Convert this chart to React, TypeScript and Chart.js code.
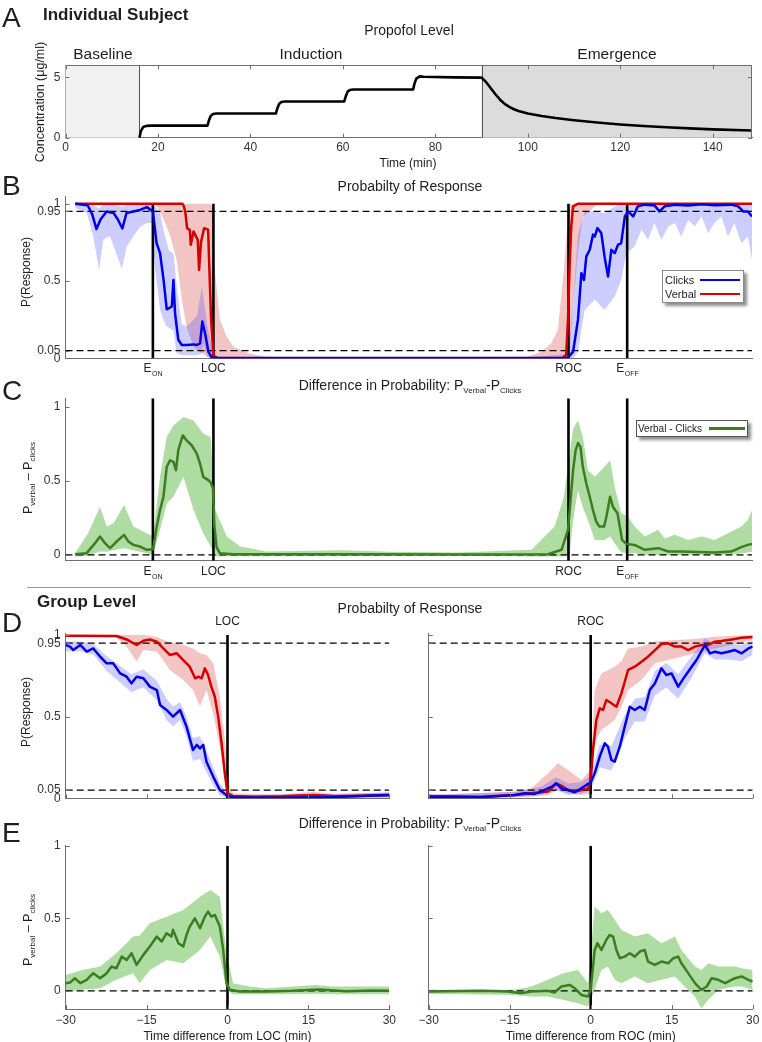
import React, { useEffect, useRef } from 'react';
import { Chart, registerables } from 'chart.js';

Chart.register(...registerables);

const W = 762;
const H = 1042;
const FONT = "'Liberation Sans', Arial, Helvetica, sans-serif";
const AXIS = '#6f6f6f';
const TICK_COLOR = '#333';
const BLUE = '#0000e6';
const RED = '#d40000';
const GREEN = '#3c7d22';
const BLUE_BAND = 'rgba(70,70,255,0.27)';
const RED_BAND = 'rgba(215,60,60,0.30)';
const GREEN_BAND = 'rgba(95,185,70,0.50)';

// ---------------- Panel A: propofol level ----------------
const A_TIME_TICKS = [0, 20, 40, 60, 80, 100, 120, 140];
const A_CONC_TICKS = [0, 5];
const PHASE_BASELINE = [0, 16];
const PHASE_EMERGENCE = [90, 148.5];
const A_CONC: number[][] = [
  [16, 0], [16.3, 0.55], [16.8, 0.88], [17.5, 0.98], [18.5, 1.0], [30.7, 1.0], [31.0, 1.4], [31.4, 1.8], [31.9, 1.96], [32.6, 2.0],
  [45.5, 2.0], [45.8, 2.4], [46.2, 2.8], [46.7, 2.96], [47.4, 3.0], [60.3, 3.0], [60.6, 3.4], [61.0, 3.8], [61.5, 3.96], [62.2, 4.0],
  [75.2, 4.0], [75.5, 4.5], [75.9, 4.9], [76.6, 5.08], [77.5, 5.05], [84, 5.0], [90, 4.98], [91, 4.6], [92, 4.1], [93, 3.6],
  [94, 3.15], [95, 2.8], [96, 2.55], [97, 2.36], [98, 2.22], [100, 2.0], [103, 1.8], [106, 1.63], [110, 1.45], [115, 1.26],
  [120, 1.1], [125, 0.97], [130, 0.86], [135, 0.77], [140, 0.69], [148.5, 0.6],
];

// ---------------- Panel B / C: individual subject ----------------
const SUBJ_EVENTS = [18.9, 32.0, 108.8, 121.5];
const SUBJ_EVENT_NAMES = [['E', 'ON'], ['LOC', ''], ['ROC', ''], ['E', 'OFF']];
const PROB_TICKS = [0, 0.05, 0.5, 0.95, 1];
const PROB_THRESHOLDS = [0.05, 0.95];
const DIFF_TICKS = [0, 0.5, 1];

const B_CLICKS: number[][] = [
  [2.1, 1.0], [4.8, 0.99], [5.8, 0.93], [6.7, 0.836], [7.6, 0.9], [8.9, 0.95], [10.4, 0.94], [11.3, 0.9], [12.3, 0.84], [13.2, 0.94],
  [14.7, 0.95], [16.1, 0.96], [17.6, 0.978], [18.9, 0.95], [19.7, 0.745], [20.45, 0.68], [21.2, 0.51], [21.9, 0.317], [23.0, 0.335],
  [23.35, 0.507], [23.7, 0.29], [24.4, 0.12], [25.15, 0.086], [26.2, 0.086], [27.7, 0.09], [28.4, 0.086], [29.1, 0.097], [29.6, 0.238],
  [30.2, 0.16], [30.9, 0.043], [31.6, 0.006], [33, 0.003], [60, 0.002], [100, 0.002], [108.7, 0.004], [109.8, 0.043], [110.85, 0.248],
  [111.6, 0.551], [112.16, 0.507], [112.66, 0.659], [113.4, 0.702], [114.1, 0.8], [114.5, 0.788], [115.05, 0.842], [115.9, 0.81],
  [116.6, 0.659], [117.36, 0.529], [118.07, 0.702], [118.8, 0.68], [119.5, 0.734], [120.2, 0.745], [121.0, 0.918], [121.7, 0.95],
  [122.8, 0.918], [123.8, 0.983], [125.3, 0.994], [127.44, 0.988], [128.5, 0.95], [129.6, 0.983], [131.8, 0.994], [134.7, 0.988],
  [137.6, 0.996], [140.4, 0.99], [144.0, 0.994], [145.5, 0.983], [146.6, 0.95], [147.6, 0.95], [148.5, 0.918],
];
const B_CLICKS_BAND: number[][] = [
  [2.1, 0.97, 1.0], [4.6, 0.94, 1.0], [6.0, 0.79, 0.99], [7.25, 0.57, 0.97], [8.2, 0.77, 0.99], [9.6, 0.79, 1.0], [10.7, 0.7, 0.99],
  [12.2, 0.58, 0.98], [13.2, 0.72, 0.99], [14.7, 0.79, 1.0], [16.1, 0.85, 1.0], [17.6, 0.875, 1.0], [18.6, 0.875, 1.0], [19.4, 0.57, 0.98],
  [20.45, 0.315, 0.94], [21.2, 0.25, 0.83], [21.9, 0.205, 0.75], [22.3, 0.2, 0.7], [23.35, 0.18, 0.68], [24.07, 0.033, 0.46],
  [25.15, 0.02, 0.22], [26.2, 0.02, 0.205], [28.4, 0.02, 0.27], [29.5, 0.03, 0.46], [29.8, 0.097, 0.4], [30.6, 0.01, 0.227],
  [32.0, 0.0, 0.02], [33, 0, 0.006], [100, 0, 0.004], [108.7, 0, 0.03], [109.8, 0, 0.356], [110.85, 0.04, 0.8], [112.3, 0.313, 0.95],
  [114.5, 0.38, 0.95], [116.6, 0.313, 0.94], [118.8, 0.4, 0.98], [120.2, 0.507, 1.0], [121.3, 0.68, 1.0], [123.1, 0.723, 1.0],
  [124.6, 0.832, 1.0], [126.0, 0.767, 1.0], [127.4, 0.875, 1.0], [128.9, 0.767, 1.0], [130.4, 0.853, 1.0], [131.8, 0.875, 1.0],
  [133.2, 0.788, 1.0], [134.7, 0.897, 1.0], [136.1, 0.853, 1.0], [137.6, 0.918, 1.0], [139.0, 0.81, 1.0], [140.4, 0.875, 1.0],
  [141.9, 0.918, 1.0], [143.3, 0.788, 1.0], [144.7, 0.875, 1.0], [146.2, 0.745, 1.0], [147.6, 0.788, 1.0], [148.5, 0.637, 1.0],
];
const B_VERBAL: number[][] = [
  [2.1, 1.0], [25.3, 1.0], [25.6, 0.985], [25.94, 0.94], [26.3, 0.842], [26.9, 0.83], [27.1, 0.734], [27.7, 0.821], [28.2, 0.79],
  [28.6, 0.767], [28.9, 0.572], [29.3, 0.75], [29.98, 0.842], [30.85, 0.832], [31.13, 0.572], [31.5, 0.25], [32.0, 0.021], [32.7, 0.002],
  [60, 0.001], [107.5, 0.002], [108.3, 0.021], [108.7, 0.25], [109.05, 0.6], [109.4, 0.85], [109.8, 0.983], [110.9, 1.0], [148.5, 1.0],
];
const B_VERBAL_BAND: number[][] = [
  [2.1, 0.99, 1.0], [19.7, 0.99, 1.0], [21.2, 0.9, 1.0], [22.6, 0.8, 1.0], [24.1, 0.63, 1.0], [25.2, 0.38, 1.0], [26.2, 0.2, 1.0],
  [27.7, 0.075, 1.0], [29.1, 0.04, 1.0], [31.3, 0.0, 1.0], [32.0, 0.0, 0.983], [32.3, 0, 0.57], [33.4, 0, 0.25], [34.9, 0, 0.14],
  [36.3, 0, 0.075], [39.9, 0, 0.03], [43.5, 0, 0.01], [50, 0, 0.003], [100, 0, 0.01], [102.9, 0, 0.043], [105.1, 0, 0.097],
  [106.5, 0, 0.183], [107.8, 0, 0.57], [108.7, 0.005, 0.918], [109.05, 0.01, 0.99], [109.8, 0.356, 1.0], [110.85, 0.68, 1.0],
  [111.9, 0.918, 1.0], [113.4, 0.95, 1.0], [114.8, 0.994, 1.0], [148.5, 0.994, 1.0],
];

const C_DIFF: number[][] = [
  [2.06, 0.004], [4.58, 0.011], [6.39, 0.079], [7.47, 0.124], [8.55, 0.079], [9.64, 0.045], [11.08, 0.09], [12.66, 0.135], [13.6, 0.09],
  [14.68, 0.067], [16.13, 0.056], [17.57, 0.034], [18.94, 0.038], [19.73, 0.191], [20.45, 0.303], [21.18, 0.393], [21.9, 0.596],
  [22.62, 0.64], [23.35, 0.629], [23.9, 0.573], [24.4, 0.708], [25.36, 0.809], [26.2, 0.775], [27.3, 0.742], [28.4, 0.685], [29.1, 0.618],
  [29.8, 0.528], [30.9, 0.506], [31.4, 0.49], [31.9, 0.45], [32.2, 0.2], [32.7, 0.05], [33.4, 0.011], [36.3, 0.003], [60, 0.003],
  [90, 0.002], [104.4, 0.004], [107.3, 0.034], [108.7, 0.169], [109.8, 0.573], [110.35, 0.708], [110.85, 0.757], [111.4, 0.73],
  [111.9, 0.596], [112.66, 0.483], [113.4, 0.393], [114.1, 0.303], [114.8, 0.225], [115.5, 0.191], [116.5, 0.191], [117.0, 0.258],
  [117.8, 0.393], [118.4, 0.326], [119.4, 0.281], [119.9, 0.191], [120.4, 0.101], [121.3, 0.074], [123.1, 0.067], [125.3, 0.034],
  [128.2, 0.045], [130.4, 0.022], [133.2, 0.022], [140.4, 0.016], [144.0, 0.022], [146.2, 0.052], [147.6, 0.067], [148.5, 0.074],
];
const C_DIFF_BAND: number[][] = [
  [2.06, -0.011, 0.011], [4.9, -0.005, 0.146], [7.47, 0.022, 0.326], [8.9, 0.02, 0.191], [10.4, 0.03, 0.213], [12.66, 0.045, 0.337],
  [14.68, 0.03, 0.191], [17.57, 0.01, 0.146], [18.94, 0.0, 0.124], [20.45, 0.169, 0.528], [21.9, 0.348, 0.798], [23.35, 0.393, 0.876],
  [25.5, 0.528, 0.933], [27.7, 0.303, 0.91], [29.8, 0.146, 0.82], [31.4, 0.056, 0.798], [32.4, -0.011, 0.303], [34.9, -0.01, 0.124],
  [37.8, -0.01, 0.056], [43.5, -0.01, 0.022], [60, -0.008, 0.03], [70, -0.008, 0.02], [85, -0.005, 0.015], [100.8, -0.011, 0.034],
  [105.8, -0.011, 0.191], [107.8, -0.011, 0.393], [109.05, 0.0, 0.685], [109.8, 0.236, 0.85], [110.85, 0.437, 0.912], [111.9, 0.32, 0.8],
  [113.0, 0.236, 0.573], [114.5, 0.101, 0.528], [116.6, 0.1, 0.596], [117.8, 0.124, 0.64], [118.8, 0.079, 0.46], [120.2, 0.015, 0.281],
  [121.7, 0.01, 0.258], [123.1, 0.01, 0.191], [125.3, 0.0, 0.124], [128.2, 0.0, 0.17], [129.6, 0.0, 0.11], [131.8, -0.005, 0.135],
  [134.7, 0.0, 0.101], [137.6, 0.0, 0.124], [140.4, 0.0, 0.101], [143.3, 0.0, 0.146], [146.2, 0.01, 0.191], [147.6, 0.015, 0.236],
  [148.5, 0.02, 0.3],
];

// ---------------- Panel D / E: group level ----------------
const GROUP_TIME_TICKS = [-30, -15, 0, 15, 30];
const GROUP_EVENT = [0];

const D_LOC_VERBAL: number[][] = [
  [-30, 0.996], [-20.6, 0.994], [-18.7, 0.973], [-16.85, 0.939], [-15.6, 0.965], [-14.4, 0.973], [-13.1, 0.959], [-11.9, 0.918],
  [-10.7, 0.878], [-9.4, 0.888], [-8.2, 0.847], [-7.0, 0.806], [-6.0, 0.735], [-5.4, 0.745], [-4.8, 0.735], [-4.2, 0.796], [-3.6, 0.755],
  [-3.0, 0.684], [-2.35, 0.622], [-1.73, 0.5], [-1.1, 0.337], [-0.5, 0.153], [0, 0.031], [1.05, 0.014], [5, 0.01], [10, 0.012],
  [16, 0.02], [20, 0.012], [25, 0.015], [30, 0.02],
];
const D_LOC_VERBAL_BAND: number[][] = [
  [-30, 0.99, 1.0], [-20.6, 0.985, 1.0], [-18.7, 0.929, 1.0], [-16.85, 0.837, 1.0], [-15.6, 0.908, 1.0], [-13.1, 0.898, 0.99],
  [-11.9, 0.847, 0.97], [-10.7, 0.786, 0.959], [-8.2, 0.724, 0.939], [-6.4, 0.663, 0.918], [-5.1, 0.561, 0.888], [-3.9, 0.663, 0.878],
  [-2.65, 0.52, 0.827], [-1.42, 0.316, 0.622], [-0.5, 0.112, 0.357], [0.43, 0.01, 0.071], [1.05, 0.005, 0.03], [10, 0.003, 0.025],
  [16, 0.005, 0.04], [20, 0.003, 0.025], [30, 0.005, 0.035],
];
const D_LOC_CLICKS: number[][] = [
  [-30, 0.939], [-29.2, 0.929], [-28.6, 0.908], [-27.3, 0.939], [-26.1, 0.898], [-24.9, 0.918], [-23.6, 0.867], [-22.4, 0.827],
  [-21.2, 0.827], [-19.9, 0.765], [-18.7, 0.745], [-17.8, 0.704], [-16.85, 0.745], [-15.6, 0.735], [-14.4, 0.684], [-13.1, 0.663],
  [-12.5, 0.571], [-11.3, 0.541], [-10.1, 0.5], [-8.8, 0.541], [-7.6, 0.439], [-6.4, 0.296], [-5.7, 0.327], [-5.1, 0.306], [-4.5, 0.327],
  [-3.9, 0.224], [-2.65, 0.133], [-1.42, 0.051], [0, 0.014], [1.05, 0.006], [10, 0.004], [20, 0.008], [26, 0.015], [30, 0.02],
];
const D_LOC_CLICKS_BAND: number[][] = [
  [-30, 0.9, 0.96], [-27.3, 0.9, 0.96], [-24.9, 0.88, 0.945], [-22.4, 0.78, 0.87], [-19.9, 0.71, 0.81], [-17.8, 0.65, 0.76],
  [-15.6, 0.68, 0.79], [-13.1, 0.6, 0.72], [-11.3, 0.48, 0.61], [-10.1, 0.44, 0.56], [-8.8, 0.48, 0.59], [-7.6, 0.38, 0.5],
  [-6.4, 0.23, 0.37], [-5.1, 0.24, 0.38], [-3.9, 0.16, 0.29], [-2.65, 0.08, 0.19], [-1.42, 0.02, 0.09], [0, 0.004, 0.03],
  [1.05, 0.0, 0.015], [30, 0.005, 0.035],
];
const D_ROC_VERBAL: number[][] = [
  [-30, 0.014], [-20.3, 0.01], [-14.1, 0.02], [-11.0, 0.031], [-7.9, 0.041], [-6.4, 0.092], [-5.13, 0.071], [-4.2, 0.051], [-2.97, 0.041],
  [-1.73, 0.051], [-0.49, 0.061], [0, 0.112], [0.43, 0.296], [1.05, 0.48], [1.67, 0.551], [2.29, 0.541], [2.9, 0.602], [3.83, 0.582],
  [4.76, 0.561], [5.69, 0.643], [6.93, 0.786], [8.16, 0.806], [9.4, 0.837], [10.6, 0.867], [11.9, 0.908], [13.1, 0.945], [14.35, 0.949],
  [15.6, 0.929], [16.8, 0.929], [18.06, 0.908], [19.3, 0.929], [20.5, 0.939], [21.8, 0.939], [23.0, 0.959], [24.2, 0.963], [26.1, 0.973],
  [27.95, 0.984], [30, 0.988],
];
const D_ROC_VERBAL_BAND: number[][] = [
  [-30, 0.006, 0.02], [-14.1, 0.01, 0.04], [-11.0, 0.01, 0.061], [-7.9, 0.02, 0.153], [-6.06, 0.051, 0.214], [-4.2, 0.03, 0.173],
  [-1.73, 0.02, 0.112], [0, 0.03, 0.173], [0.74, 0.337, 0.663], [1.98, 0.418, 0.765], [4.45, 0.48, 0.806], [5.69, 0.561, 0.84],
  [6.93, 0.663, 0.918], [9.4, 0.724, 0.929], [11.9, 0.827, 0.96], [14.35, 0.847, 0.967], [16.8, 0.867, 0.971], [19.3, 0.888, 0.976],
  [20.5, 0.898, 0.98], [23.0, 0.918, 0.99], [26.1, 0.939, 0.995], [30, 0.969, 1.0],
];
const D_ROC_CLICKS: number[][] = [
  [-30, 0.01], [-20.3, 0.006], [-14.1, 0.02], [-12.2, 0.031], [-10.4, 0.027], [-9.15, 0.041], [-7.9, 0.061], [-7.0, 0.075], [-6.4, 0.092],
  [-5.44, 0.061], [-4.2, 0.051], [-2.97, 0.037], [-1.73, 0.061], [-0.8, 0.082], [0, 0.096], [0.74, 0.153], [1.67, 0.255], [2.6, 0.337],
  [3.2, 0.316], [3.83, 0.235], [4.45, 0.224], [5.38, 0.316], [6.3, 0.439], [7.24, 0.561], [8.16, 0.541], [9.1, 0.561], [10.0, 0.541],
  [10.95, 0.663], [11.9, 0.704], [13.1, 0.796], [14.0, 0.755], [14.97, 0.765], [16.2, 0.684], [17.4, 0.745], [18.7, 0.806], [19.6, 0.847],
  [21.15, 0.939], [22.1, 0.888], [23.0, 0.898], [24.2, 0.888], [25.5, 0.898], [26.7, 0.908], [27.95, 0.888], [29.2, 0.918], [30, 0.929],
];
const D_ROC_CLICKS_BAND: number[][] = [
  [-30, 0.0, 0.02], [-14.1, 0.005, 0.04], [-9.15, 0.02, 0.07], [-6.4, 0.05, 0.13], [-4.2, 0.02, 0.09], [-1.73, 0.03, 0.1], [0, 0.05, 0.14],
  [1.67, 0.19, 0.33], [3.83, 0.17, 0.32], [6.3, 0.37, 0.51], [8.16, 0.47, 0.61], [10.0, 0.47, 0.62], [11.9, 0.63, 0.78], [14.0, 0.68, 0.83],
  [16.2, 0.61, 0.76], [18.7, 0.74, 0.87], [21.15, 0.89, 0.98], [23.0, 0.85, 0.94], [25.5, 0.85, 0.945], [27.95, 0.84, 0.94], [30, 0.88, 0.97],
];

const E_LOC_DIFF: number[][] = [
  [-30, 0.053], [-29.2, 0.057], [-28.3, 0.087], [-27.3, 0.053], [-26.1, 0.076], [-24.9, 0.122], [-23.6, 0.087], [-22.4, 0.122],
  [-21.5, 0.167], [-20.6, 0.156], [-19.6, 0.236], [-18.7, 0.213], [-17.8, 0.259], [-16.85, 0.179], [-15.6, 0.248], [-14.4, 0.305],
  [-13.1, 0.374], [-12.2, 0.339], [-11.3, 0.397], [-10.4, 0.374], [-10.1, 0.42], [-9.1, 0.328], [-8.2, 0.305], [-7.6, 0.385], [-7.0, 0.443],
  [-6.05, 0.5], [-5.1, 0.431], [-4.2, 0.511], [-3.6, 0.546], [-3.0, 0.511], [-2.35, 0.523], [-1.42, 0.443], [-0.8, 0.282], [-0.19, 0.053],
  [0.43, 0.007], [2.3, -0.005], [7.2, -0.005], [12, 0.0], [17, 0.01], [22, -0.003], [27, 0.002], [30, 0.0],
];
const E_LOC_DIFF_BAND: number[][] = [
  [-30, -0.005, 0.11], [-26.9, 0.007, 0.144], [-23.6, 0.018, 0.167], [-20.6, 0.076, 0.259], [-17.5, 0.122, 0.374], [-16.3, 0.053, 0.38],
  [-14.4, 0.144, 0.466], [-11.3, 0.213, 0.511], [-8.2, 0.19, 0.557], [-5.1, 0.282, 0.649], [-3.2, 0.374, 0.695], [-1.42, 0.236, 0.649],
  [-0.19, 0.007, 0.259], [1.05, -0.023, 0.053], [4.1, -0.023, 0.03], [7.2, -0.023, 0.018], [16.4, -0.02, 0.04], [19.5, -0.023, 0.03],
  [30, -0.023, 0.03],
];
const E_ROC_DIFF: number[][] = [
  [-30, -0.005], [-20.3, 0.0], [-15.3, -0.005], [-12.9, -0.016], [-11.0, -0.005], [-7.9, 0.0], [-6.7, -0.011], [-5.44, 0.03], [-3.9, 0.041],
  [-2.97, 0.018], [-1.73, -0.028], [-0.49, -0.039], [0, 0.007], [0.74, 0.282], [1.24, 0.328], [1.98, 0.282], [2.9, 0.351], [3.5, 0.385],
  [4.14, 0.374], [4.76, 0.282], [5.38, 0.225], [6.3, 0.236], [7.24, 0.259], [8.16, 0.236], [9.1, 0.271], [10.0, 0.282], [10.6, 0.202],
  [11.9, 0.179], [13.1, 0.202], [14.35, 0.19], [15.3, 0.225], [16.2, 0.236], [16.8, 0.19], [18.06, 0.122], [19.3, 0.053], [20.5, 0.007],
  [21.5, 0.03], [22.4, 0.087], [23.6, 0.076], [24.9, 0.053], [26.7, 0.087], [27.95, 0.099], [29.2, 0.076], [30, 0.064],
];
const E_ROC_DIFF_BAND: number[][] = [
  [-30, -0.02, 0.007], [-14.1, -0.028, 0.007], [-11.0, -0.039, 0.03], [-7.9, -0.039, 0.076], [-5.13, -0.062, 0.122], [-2.35, -0.085, 0.144],
  [-0.49, -0.108, 0.053], [0.74, 0.007, 0.581], [1.98, 0.144, 0.535], [3.2, 0.167, 0.557], [4.45, 0.076, 0.489], [5.69, 0.053, 0.42],
  [8.16, 0.099, 0.374], [10.6, 0.053, 0.397], [13.1, 0.076, 0.328], [15.6, 0.099, 0.374], [16.8, 0.053, 0.282], [19.3, -0.039, 0.167],
  [20.5, -0.12, 0.144], [21.8, -0.062, 0.19], [23.6, 0.007, 0.167], [26.7, 0.03, 0.167], [27.95, 0.03, 0.156], [30, 0.007, 0.144],
];

// ---------------- helpers ----------------
const pts = (a: number[][], k = 1) => a.map((p) => ({ x: p[0], y: p[k] }));

function lineDs(a: number[][], color: string, width: number, order: number, dash: number[] = []) {
  return {
    data: pts(a), borderColor: color, borderWidth: width, borderDash: dash, pointRadius: 0,
    fill: false, tension: 0, order, borderJoinStyle: 'round',
  };
}
function bandDs(a: number[][], color: string, order: number) {
  return [
    { data: pts(a, 1), borderWidth: 0, borderColor: 'rgba(0,0,0,0)', pointRadius: 0, fill: false, tension: 0, order },
    { data: pts(a, 2), borderWidth: 0, borderColor: 'rgba(0,0,0,0)', backgroundColor: color, pointRadius: 0, fill: '-1', tension: 0, order },
  ];
}
function hLines(values: number[], xMin: number, xMax: number) {
  return values.map((v) => lineDs([[xMin, v], [xMax, v]], '#000', 1.3, 3, [7, 4]));
}
function vLines(values: number[], yLo: number, yHi: number) {
  return values.map((v) => lineDs([[v, yLo], [v, yHi]], '#000', 2.6, 4));
}
const fmt = (v: number) => (v < 0 ? '\u2212' + Math.abs(v) : String(v));

type Spec = {
  box: number[];
  xMin: number; xMax: number; yMin: number; yMax: number;
  xTicks: number[]; xLabels: boolean; xMarks: number[];
  yTicks: number[]; yLabels: boolean;
  fullBox?: boolean;
  xTickPad?: number;
  regions?: { from: number; to: number; color: string }[];
  regionEdges?: number[];
  eventLabels?: { items: { x: number; main: string; sub: string }[]; edge: string; dy: number };
  datasets: any[];
};

function makeDecor(spec: Spec) {
  return {
    id: 'decor',
    beforeDatasetsDraw(chart: any) {
      const { ctx, chartArea: ca, scales } = chart;
      const xs = scales.x;
      if (spec.regions) {
        ctx.save();
        for (const rg of spec.regions) {
          const x0 = xs.getPixelForValue(rg.from);
          const x1 = xs.getPixelForValue(rg.to);
          ctx.fillStyle = rg.color;
          ctx.fillRect(x0, ca.top, x1 - x0, ca.bottom - ca.top);
        }
        ctx.strokeStyle = '#555';
        ctx.lineWidth = 1;
        for (const v of spec.regionEdges || []) {
          const x = Math.round(xs.getPixelForValue(v)) + 0.5;
          ctx.beginPath(); ctx.moveTo(x, ca.top); ctx.lineTo(x, ca.bottom); ctx.stroke();
        }
        ctx.restore();
      }
    },
    afterDraw(chart: any) {
      const { ctx, chartArea: ca, scales } = chart;
      const xs = scales.x;
      const ys = scales.y;
      ctx.save();
      ctx.strokeStyle = AXIS;
      ctx.lineWidth = 1;
      const L = 4;
      for (const v of spec.xMarks) {
        const x = Math.round(xs.getPixelForValue(v)) + 0.5;
        ctx.beginPath(); ctx.moveTo(x, ca.bottom); ctx.lineTo(x, ca.bottom - L); ctx.stroke();
        if (spec.fullBox) { ctx.beginPath(); ctx.moveTo(x, ca.top); ctx.lineTo(x, ca.top + L); ctx.stroke(); }
      }
      for (const v of spec.yTicks) {
        const y = Math.round(ys.getPixelForValue(v)) + 0.5;
        ctx.beginPath(); ctx.moveTo(ca.left, y); ctx.lineTo(ca.left + L, y); ctx.stroke();
        if (spec.fullBox) { ctx.beginPath(); ctx.moveTo(ca.right, y); ctx.lineTo(ca.right - L, y); ctx.stroke(); }
      }
      if (spec.fullBox) {
        ctx.beginPath();
        ctx.moveTo(Math.round(ca.left) + 0.5, Math.round(ca.top) + 0.5);
        ctx.lineTo(Math.round(ca.right) - 0.5, Math.round(ca.top) + 0.5);
        ctx.lineTo(Math.round(ca.right) - 0.5, Math.round(ca.bottom) + 0.5);
        ctx.stroke();
      }
      if (spec.eventLabels) {
        const { items, edge, dy } = spec.eventLabels;
        const baseY = (edge === 'top' ? ca.top : ca.bottom) + dy;
        ctx.fillStyle = '#222';
        ctx.textBaseline = 'middle';
        ctx.textAlign = 'left';
        for (const it of items) {
          ctx.font = `12px ${FONT}`;
          const w1 = ctx.measureText(it.main).width;
          let w2 = 0;
          if (it.sub) { ctx.font = `7px ${FONT}`; w2 = ctx.measureText(it.sub).width; }
          const x0 = xs.getPixelForValue(it.x) - (w1 + w2) / 2;
          ctx.font = `12px ${FONT}`;
          ctx.fillText(it.main, x0, baseY);
          if (it.sub) { ctx.font = `7px ${FONT}`; ctx.fillText(it.sub, x0 + w1 + 0.5, baseY + 5); }
        }
      }
      ctx.restore();
    },
  };
}

function makeConfig(spec: Spec): any {
  const [l, t, r, b] = spec.box;
  const YW = 40;
  const XH = 24;
  const zeroPad = (s: any) => { s.paddingLeft = 0; s.paddingRight = 0; s.paddingTop = 0; s.paddingBottom = 0; };
  const tickFont = { family: FONT, size: 12 };
  return {
    type: 'line',
    data: { datasets: spec.datasets },
    options: {
      responsive: false,
      animation: false,
      devicePixelRatio: 1,
      events: [],
      layout: { padding: { left: l - YW, top: t, right: W - r, bottom: H - b - XH } },
      plugins: { legend: { display: false }, tooltip: { enabled: false }, title: { display: false } },
      scales: {
        x: {
          type: 'linear', min: spec.xMin, max: spec.xMax,
          grid: { display: false, drawTicks: false, tickLength: 0 },
          border: { display: true, color: AXIS, width: 1 },
          ticks: { display: spec.xLabels, font: tickFont, color: TICK_COLOR, padding: spec.xTickPad ?? 4, autoSkip: false, maxRotation: 0, callback: (v: number) => fmt(v) },
          afterBuildTicks: (s: any) => { s.ticks = spec.xTicks.map((value) => ({ value })); },
          afterFit: (s: any) => { s.height = XH; zeroPad(s); },
        },
        y: {
          type: 'linear', min: spec.yMin, max: spec.yMax,
          grid: { display: false, drawTicks: false, tickLength: 0 },
          border: { display: true, color: AXIS, width: 1 },
          ticks: { display: spec.yLabels, font: tickFont, color: TICK_COLOR, padding: 5, autoSkip: false, callback: (v: number) => fmt(v) },
          afterBuildTicks: (s: any) => { s.ticks = spec.yTicks.map((value) => ({ value })); },
          afterFit: (s: any) => { s.width = YW; zeroPad(s); },
        },
      },
    },
    plugins: [makeDecor(spec)],
  };
}

const subjEventItems = SUBJ_EVENTS.map((x, i) => ({ x, main: SUBJ_EVENT_NAMES[i][0], sub: SUBJ_EVENT_NAMES[i][1] }));

const PANELS: Spec[] = [
  // A
  {
    box: [65.5, 65.3, 752, 137.7], xMin: 0, xMax: 148.5, yMin: 0, yMax: 6,
    xTicks: A_TIME_TICKS, xLabels: true, xMarks: A_TIME_TICKS, yTicks: A_CONC_TICKS, yLabels: true, fullBox: true, xTickPad: 3,
    regions: [
      { from: PHASE_BASELINE[0], to: PHASE_BASELINE[1], color: '#f1f1f1' },
      { from: PHASE_EMERGENCE[0], to: PHASE_EMERGENCE[1], color: '#dcdcdc' },
    ],
    regionEdges: [PHASE_BASELINE[1], PHASE_EMERGENCE[0]],
    datasets: [lineDs(A_CONC, '#000', 2.6, 1)],
  },
  // B
  {
    box: [65.5, 196, 752, 358.3], xMin: 0, xMax: 148.5, yMin: 0, yMax: 1.05,
    xTicks: [], xLabels: false, xMarks: [], yTicks: PROB_TICKS, yLabels: true,
    eventLabels: { items: subjEventItems, edge: 'bottom', dy: 10.7 },
    datasets: [
      lineDs(B_CLICKS, BLUE, 2.5, 1),
      lineDs(B_VERBAL, RED, 2.5, 2),
      ...hLines(PROB_THRESHOLDS, 0, 148.5),
      ...vLines(SUBJ_EVENTS, 0, 1),
      ...bandDs(B_CLICKS_BAND, BLUE_BAND, 10),
      ...bandDs(B_VERBAL_BAND, RED_BAND, 11),
    ],
  },
  // C
  {
    box: [65.5, 398.3, 752, 560.7], xMin: 0, xMax: 148.5, yMin: -0.04, yMax: 1.06,
    xTicks: [], xLabels: false, xMarks: [], yTicks: DIFF_TICKS, yLabels: true,
    eventLabels: { items: subjEventItems, edge: 'bottom', dy: 11 },
    datasets: [
      lineDs(C_DIFF, GREEN, 2.5, 1),
      ...hLines([0], 0, 148.5),
      ...vLines(SUBJ_EVENTS, -0.04, 1.06),
      ...bandDs(C_DIFF_BAND, GREEN_BAND, 10),
    ],
  },
  // D left (LOC)
  {
    box: [65.7, 633.4, 389.3, 798.3], xMin: -30, xMax: 30, yMin: 0, yMax: 1.01,
    xTicks: GROUP_TIME_TICKS, xLabels: false, xMarks: GROUP_TIME_TICKS, yTicks: PROB_TICKS, yLabels: true,
    eventLabels: { items: [{ x: GROUP_EVENT[0], main: 'LOC', sub: '' }], edge: 'top', dy: -12 },
    datasets: [
      lineDs(D_LOC_CLICKS, BLUE, 2.5, 1),
      lineDs(D_LOC_VERBAL, RED, 2.5, 2),
      ...hLines(PROB_THRESHOLDS, -30, 30),
      ...vLines(GROUP_EVENT, 0, 1),
      ...bandDs(D_LOC_CLICKS_BAND, BLUE_BAND, 10),
      ...bandDs(D_LOC_VERBAL_BAND, RED_BAND, 11),
    ],
  },
  // D right (ROC)
  {
    box: [428.7, 633.4, 752.7, 798.3], xMin: -30, xMax: 30, yMin: 0, yMax: 1.01,
    xTicks: GROUP_TIME_TICKS, xLabels: false, xMarks: GROUP_TIME_TICKS, yTicks: PROB_TICKS, yLabels: false,
    eventLabels: { items: [{ x: GROUP_EVENT[0], main: 'ROC', sub: '' }], edge: 'top', dy: -12 },
    datasets: [
      lineDs(D_ROC_CLICKS, BLUE, 2.5, 1),
      lineDs(D_ROC_VERBAL, RED, 2.5, 2),
      ...hLines(PROB_THRESHOLDS, -30, 30),
      ...vLines(GROUP_EVENT, 0, 1),
      ...bandDs(D_ROC_CLICKS_BAND, BLUE_BAND, 10),
      ...bandDs(D_ROC_VERBAL_BAND, RED_BAND, 11),
    ],
  },
  // E left
  {
    box: [65.7, 845.7, 389.3, 1009], xMin: -30, xMax: 30, yMin: -0.125, yMax: 1.0,
    xTicks: GROUP_TIME_TICKS, xLabels: true, xMarks: GROUP_TIME_TICKS, yTicks: DIFF_TICKS, yLabels: true, xTickPad: 4.5,
    datasets: [
      lineDs(E_LOC_DIFF, GREEN, 2.5, 1),
      ...hLines([0], -30, 30),
      ...vLines(GROUP_EVENT, -0.125, 1.0),
      ...bandDs(E_LOC_DIFF_BAND, GREEN_BAND, 10),
    ],
  },
  // E right
  {
    box: [428.7, 845.7, 752.7, 1009], xMin: -30, xMax: 30, yMin: -0.125, yMax: 1.0,
    xTicks: GROUP_TIME_TICKS, xLabels: true, xMarks: GROUP_TIME_TICKS, yTicks: DIFF_TICKS, yLabels: false, xTickPad: 4.5,
    datasets: [
      lineDs(E_ROC_DIFF, GREEN, 2.5, 1),
      ...hLines([0], -30, 30),
      ...vLines(GROUP_EVENT, -0.125, 1.0),
      ...bandDs(E_ROC_DIFF_BAND, GREEN_BAND, 10),
    ],
  },
];

// ---------------- text helpers ----------------
function Txt(props: { x: number; y: number; size?: number; bold?: boolean; rot?: boolean; left?: boolean; children: any }) {
  const { x, y, size = 12, bold = false, rot = false, left = false, children } = props;
  return (
    <div
      style={{
        position: 'absolute', left: x, top: y, whiteSpace: 'nowrap', lineHeight: 1,
        fontSize: size, fontWeight: bold ? 700 : 400, color: '#1e1e1e',
        transform: `translate(${left ? '0' : '-50%'}, -50%)${rot ? ' rotate(-90deg)' : ''}`,
      }}
    >
      {children}
    </div>
  );
}
const Sub = (p: { children: any; size?: number }) => (
  <span style={{ fontSize: p.size ?? 8, position: 'relative', top: 3 }}>{p.children}</span>
);

function LegendRow(p: { label: string; color: string; y: number; size: number; x: number; lx0: number; lx1: number }) {
  return (
    <>
      <div style={{ position: 'absolute', left: p.x, top: p.y, transform: 'translateY(-50%)', fontSize: p.size, lineHeight: 1, color: '#222', whiteSpace: 'nowrap' }}>{p.label}</div>
      <div style={{ position: 'absolute', left: p.lx0, top: p.y - 1.25, width: p.lx1 - p.lx0, height: 2.5, background: p.color }} />
    </>
  );
}

export default function App() {
  const refs = useRef<(HTMLCanvasElement | null)[]>([]);
  useEffect(() => {
    const charts = PANELS.map((spec, i) => new Chart(refs.current[i] as HTMLCanvasElement, makeConfig(spec)));
    return () => charts.forEach((c) => c.destroy());
  }, []);

  return (
    <div style={{ position: 'absolute', left: 0, top: 0, width: W, height: H, background: '#fff', fontFamily: FONT, overflow: 'hidden' }}>
      {PANELS.map((_, i) => (
        <canvas key={i} ref={(el) => { refs.current[i] = el; }} width={W} height={H} style={{ position: 'absolute', left: 0, top: 0, width: W, height: H }} />
      ))}

      {/* Panel letters and headings */}
      <Txt x={2} y={18} size={28} left>A</Txt>
      <Txt x={43} y={13.5} size={17} bold left>Individual Subject</Txt>
      <Txt x={409} y={30} size={14}>Propofol Level</Txt>
      <Txt x={103} y={54} size={15.5}>Baseline</Txt>
      <Txt x={311} y={54} size={15.5}>Induction</Txt>
      <Txt x={617} y={54} size={15.5}>Emergence</Txt>
      <Txt x={40} y={101.5} size={12.5} rot>Concentration (μg/ml)</Txt>
      <Txt x={408} y={163} size={12}>Time (min)</Txt>

      <Txt x={2} y={186} size={28} left>B</Txt>
      <Txt x={410} y={186} size={14}>Probabilty of Response</Txt>
      <Txt x={26} y={272} size={12} rot>P(Response)</Txt>

      <div style={{ position: 'absolute', left: 661.5, top: 270, width: 82, height: 33, background: '#fff', border: '1px solid #8a8a8a', boxShadow: '3px 3px 3px rgba(0,0,0,0.45)', boxSizing: 'border-box' }} />
      <LegendRow label="Clicks" color={BLUE} y={280} size={11} x={665} lx0={700} lx1={740} />
      <LegendRow label="Verbal" color={RED} y={294} size={11} x={665} lx0={700} lx1={740} />

      <Txt x={2} y={391} size={28} left>C</Txt>
      <Txt x={410} y={385} size={14}>
        Difference in Probability: P<Sub>Verbal</Sub>-P<Sub>Clicks</Sub>
      </Txt>
      <Txt x={28} y={478} size={12.5} rot>
        P<Sub>verbal</Sub> – P<Sub>clicks</Sub>
      </Txt>

      <div style={{ position: 'absolute', left: 636, top: 420, width: 112, height: 17, background: '#fff', border: '1px solid #555', boxShadow: '3px 3px 3px rgba(0,0,0,0.45)', boxSizing: 'border-box' }} />
      <LegendRow label="Verbal - Clicks" color={GREEN} y={428.5} size={10} x={638} lx0={709} lx1={745} />

      <div style={{ position: 'absolute', left: 27, top: 587, width: 724, height: 1, background: '#999' }} />
      <Txt x={37} y={601} size={17} bold left>Group Level</Txt>
      <Txt x={2} y={622.5} size={28} left>D</Txt>
      <Txt x={410} y={608} size={14}>Probabilty of Response</Txt>
      <Txt x={26} y={712} size={12} rot>P(Response)</Txt>

      <Txt x={2} y={832.5} size={28} left>E</Txt>
      <Txt x={410} y={823} size={14}>
        Difference in Probability: P<Sub>Verbal</Sub>-P<Sub>Clicks</Sub>
      </Txt>
      <Txt x={28} y={930} size={12.5} rot>
        P<Sub>verbal</Sub> – P<Sub>clicks</Sub>
      </Txt>
      <Txt x={227.5} y={1036} size={12}>Time difference from LOC (min)</Txt>
      <Txt x={590.7} y={1036} size={12}>Time difference from ROC (min)</Txt>
    </div>
  );
}
